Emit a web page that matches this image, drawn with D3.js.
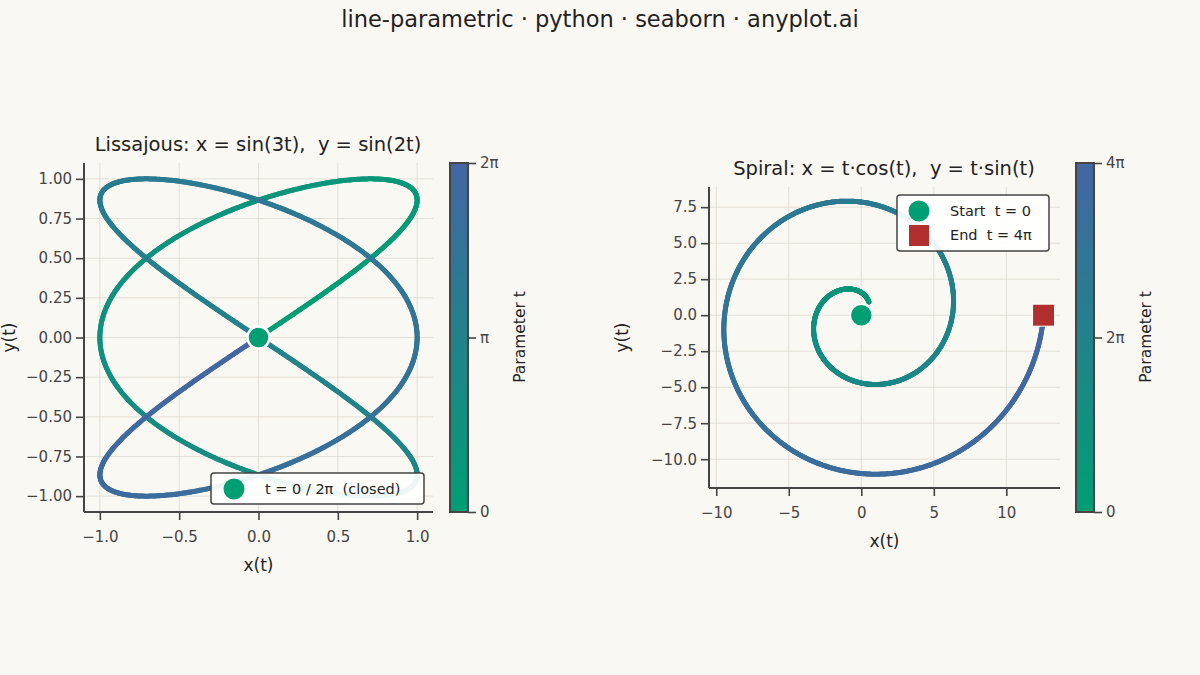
<!DOCTYPE html>
<html lang="en">
<head>
<meta charset="UTF-8" />
<title>line-parametric</title>
<script src="https://cdnjs.cloudflare.com/ajax/libs/d3/7.8.5/d3.min.js"></script>
<style>
  body { margin: 0; background: #faf8f2; }
  text { font-family: "DejaVu Sans", sans-serif; white-space: pre; }
</style>
</head>
<body>
<div id="chart"></div>
<script>
// parameter samples and curve definitions (as stated in the panel titles)
const nSamples = 1200;
const lissT = d3.range(nSamples + 1).map(i => i / nSamples * 2 * Math.PI);
const spiralT = d3.range(nSamples + 1).map(i => 1.05 + i / nSamples * (4 * Math.PI - 1.05));
const lissPts = lissT.map(t => ({ t, x: Math.sin(3 * t), y: Math.sin(2 * t) }));
const spiralPts = spiralT.map(t => ({ t, x: t * Math.cos(t), y: t * Math.sin(t) }));

const lissXTicks = [-1.0, -0.5, 0.0, 0.5, 1.0];
const lissYTicks = [-1.0, -0.75, -0.5, -0.25, 0, 0.25, 0.5, 0.75, 1.0];
const spiralXTicks = [-10, -5, 0, 5, 10];
const spiralYTicks = [-10, -7.5, -5, -2.5, 0, 2.5, 5, 7.5];

const width = 1200, height = 675;
const ink = "#444";
const svg = d3.select("#chart").append("svg").attr("width", width).attr("height", height);
svg.append("rect").attr("width", width).attr("height", height).attr("fill", "#faf8f2");

svg.append("text").attr("x", 600).attr("y", 27).attr("text-anchor", "middle")
  .attr("font-size", 22.5).attr("fill", "#222").text("line-parametric · python · seaborn · anyplot.ai");

const green = "#009e73", blue = "#4466a3";

function panel(o) {
  const x = d3.scaleLinear().domain(o.xd).range([o.left, o.right]);
  const y = d3.scaleLinear().domain(o.yd).range([o.bottom, o.top]);
  const g = svg.append("g");
  const color = d3.scaleLinear().domain([0, o.tMax]).range([green, blue]).interpolate(d3.interpolateRgb);

  // grid
  g.selectAll(".gx").data(o.xt).join("line")
    .attr("x1", d => x(d)).attr("x2", d => x(d)).attr("y1", o.top).attr("y2", o.bottom)
    .attr("stroke", "#ddd8cf").attr("stroke-width", 0.8);
  g.selectAll(".gy").data(o.yt).join("line")
    .attr("y1", d => y(d)).attr("y2", d => y(d)).attr("x1", o.left).attr("x2", o.right)
    .attr("stroke", "#ddd8cf").attr("stroke-width", 0.8);

  // curve as coloured segments
  const pts = o.pts;
  g.selectAll(".seg").data(pts.slice(1)).join("line")
    .attr("x1", (d, i) => x(pts[i].x)).attr("y1", (d, i) => y(pts[i].y))
    .attr("x2", d => x(d.x)).attr("y2", d => y(d.y))
    .attr("stroke", d => color(d.t)).attr("stroke-width", 5).attr("stroke-linecap", "round");

  // axes
  const ax = g.append("g").attr("transform", `translate(0,${o.bottom})`)
    .call(d3.axisBottom(x).tickValues(o.xt).tickFormat(o.xf).tickSize(8).tickSizeOuter(0));
  const ay = g.append("g").attr("transform", `translate(${o.left},0)`)
    .call(d3.axisLeft(y).tickValues(o.yt).tickFormat(o.yf).tickSize(8).tickSizeOuter(0));
  [ax, ay].forEach(a => {
    a.select(".domain").attr("stroke", ink).attr("stroke-width", 2);
    a.selectAll(".tick line").attr("stroke", ink).attr("stroke-width", 1.6);
    a.selectAll(".tick text").attr("font-size", 15).attr("fill", ink).style("font-family", "DejaVu Sans");
  });
  ax.select(".domain").attr("d", `M${o.left},0H${o.right}`);
  ay.select(".domain").attr("d", `M0,${o.top}V${o.bottom}`);
  ax.selectAll(".tick text").attr("dy", "1.25em");
  ay.selectAll(".tick text").attr("x", -12);

  g.append("text").attr("x", (o.left + o.right) / 2).attr("y", o.bottom + 59).attr("text-anchor", "middle")
    .attr("font-size", 17).attr("fill", "#222").text("x(t)");
  g.append("text").attr("transform", `translate(${o.ylabX},${(o.top + o.bottom) / 2}) rotate(-90)`)
    .attr("text-anchor", "middle").attr("font-size", 17).attr("fill", "#222").text("y(t)");
  g.append("text").attr("x", o.titleX).attr("y", o.titleY).attr("text-anchor", "middle")
    .attr("font-size", 19.5).attr("fill", "#222").text(o.title);

  // colourbar
  const defs = svg.append("defs");
  const gid = "grad" + o.id;
  const grad = defs.append("linearGradient").attr("id", gid).attr("x1", 0).attr("y1", 1).attr("x2", 0).attr("y2", 0);
  grad.append("stop").attr("offset", 0).attr("stop-color", green);
  grad.append("stop").attr("offset", 1).attr("stop-color", blue);
  const cb = d3.scaleLinear().domain([0, o.tMax]).range([512, 163]);
  g.append("rect").attr("x", o.cbX).attr("y", 163).attr("width", 18).attr("height", 512 - 163)
    .attr("fill", `url(#${gid})`).attr("stroke", ink).attr("stroke-width", 2);
  const cax = g.append("g").attr("transform", `translate(${o.cbX + 18},0)`)
    .call(d3.axisRight(cb).tickValues(o.cbTicks).tickFormat((d, i) => o.cbLabels[i]).tickSize(8).tickSizeOuter(0));
  cax.select(".domain").remove();
  cax.selectAll(".tick line").attr("stroke", ink).attr("stroke-width", 1.6);
  cax.selectAll(".tick text").attr("font-size", 15).attr("fill", ink).attr("x", 12).style("font-family", "DejaVu Sans");
  g.append("text").attr("transform", `translate(${o.cbX + 75},337) rotate(-90)`)
    .attr("text-anchor", "middle").attr("font-size", 15.5).attr("fill", "#222").text("Parameter t");

  return { x, y, g };
}

const fmt2 = d => d3.format(".2f")(d).replace("-", "−");
const fmt1 = d => d3.format(".1f")(d).replace("-", "−");
const fmt0 = d => d3.format("d")(d).replace("-", "−");

const L = panel({
  id: 1, xd: [-1.1, 1.1], yd: [-1.1, 1.1], left: 84, right: 433, top: 163, bottom: 512,
  xt: lissXTicks, yt: lissYTicks, xf: fmt1, yf: fmt2, pts: lissPts, tMax: 2 * Math.PI,
  ylabX: 15, title: "Lissajous: x = sin(3t),  y = sin(2t)", titleX: 258, titleY: 151,
  cbX: 450, cbTicks: [0, Math.PI, 2 * Math.PI], cbLabels: ["0", "π", "2π"]
});
L.g.append("circle").attr("cx", L.x(0)).attr("cy", L.y(0)).attr("r", 11)
  .attr("fill", green).attr("stroke", "#fff").attr("stroke-width", 2.5);
// legend
L.g.append("rect").attr("x", 211).attr("y", 473).attr("width", 213).attr("height", 31).attr("rx", 3)
  .attr("fill", "#fff").attr("fill-opacity", 0.92).attr("stroke", ink).attr("stroke-width", 1.5);
L.g.append("circle").attr("cx", 234).attr("cy", 489).attr("r", 10.5).attr("fill", green);
L.g.append("text").attr("x", 265).attr("y", 494).attr("font-size", 14.5).attr("fill", "#222").text("t = 0 / 2π  (closed)");

const S = panel({
  id: 2, xd: [-10.5, 13.7], yd: [-12.0, 8.9], left: 709, right: 1060, top: 187, bottom: 488,
  xt: spiralXTicks, yt: spiralYTicks, xf: fmt0, yf: fmt1, pts: spiralPts, tMax: 4 * Math.PI,
  ylabX: 628, title: "Spiral: x = t·cos(t),  y = t·sin(t)", titleX: 884, titleY: 175,
  cbX: 1076, cbTicks: [0, 2 * Math.PI, 4 * Math.PI], cbLabels: ["0", "2π", "4π"]
});
S.g.append("circle").attr("cx", S.x(0)).attr("cy", S.y(0)).attr("r", 11).attr("fill", green)
  .attr("stroke", "#fff").attr("stroke-width", 1.5);
S.g.append("rect").attr("x", S.x(4 * Math.PI) - 11).attr("y", S.y(0) - 11).attr("width", 22).attr("height", 22)
  .attr("fill", "#b22f30").attr("stroke", "#fff").attr("stroke-width", 1);
S.g.append("rect").attr("x", 897).attr("y", 195).attr("width", 152).attr("height", 56).attr("rx", 3)
  .attr("fill", "#fff").attr("fill-opacity", 0.92).attr("stroke", ink).attr("stroke-width", 1.5);
S.g.append("circle").attr("cx", 919).attr("cy", 211).attr("r", 10.5).attr("fill", green);
S.g.append("rect").attr("x", 909).attr("y", 225).attr("width", 20).attr("height", 21).attr("fill", "#b22f30");
S.g.append("text").attr("x", 950).attr("y", 216).attr("font-size", 14.5).attr("fill", "#222").text("Start  t = 0");
S.g.append("text").attr("x", 950).attr("y", 240).attr("font-size", 14.5).attr("fill", "#222").text("End  t = 4π");
</script>
</body>
</html>
